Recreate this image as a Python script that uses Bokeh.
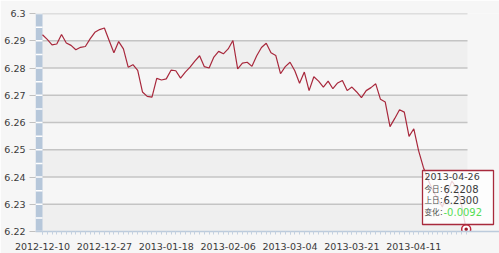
from bokeh.plotting import figure
from bokeh.models import FixedTicker, Range1d, BoxAnnotation, Label
from bokeh.embed import file_html
from bokeh.resources import INLINE

# ---- data ----
rates = [6.2922, 6.2905, 6.2885, 6.2888, 6.2923, 6.2892, 6.2883, 6.2867, 6.2876, 6.2879,
         6.2907, 6.2931, 6.2941, 6.2947, 6.2901, 6.2856, 6.2897, 6.2870, 6.2803, 6.2812,
         6.2791, 6.2712, 6.2696, 6.2693, 6.2762, 6.2756, 6.2760, 6.2792, 6.2790, 6.2763,
         6.2785, 6.2803, 6.2825, 6.2845, 6.2805, 6.2800, 6.2840, 6.2861, 6.2852, 6.2870,
         6.2901, 6.2797, 6.2818, 6.2821, 6.2806, 6.2845, 6.2875, 6.2891, 6.2856, 6.2846,
         6.2779, 6.2805, 6.2821, 6.2790, 6.2744, 6.2785, 6.2717, 6.2768, 6.2752, 6.2730,
         6.2752, 6.2724, 6.2745, 6.2754, 6.2717, 6.2730, 6.2712, 6.2691, 6.2717, 6.2728,
         6.2742, 6.2685, 6.2675, 6.2585, 6.2615, 6.2647, 6.2638, 6.2549, 6.2577, 6.2497,
         6.2436, 6.2390, 6.2350, 6.2320, 6.2290, 6.2340, 6.2385, 6.2360, 6.2300, 6.2208]
day_index = list(range(len(rates)))
x_tick_index = [0, 13, 26, 39, 52, 65, 78]
x_tick_labels = ["2012-12-10", "2012-12-27", "2013-01-18", "2013-02-06",
                 "2013-03-04", "2013-03-21", "2013-04-11"]
y_ticks = [6.22, 6.23, 6.24, 6.25, 6.26, 6.27, 6.28, 6.29, 6.30]
y_tick_labels = ["6.22", "6.23", "6.24", "6.25", "6.26", "6.27", "6.28", "6.29", "6.3"]
last_date = "2013-04-26"
tip_names = ["今日：", "上日：", "变化："]

FONT = "DejaVu Sans, Noto Sans CJK SC"
CJK = "Noto Sans CJK SC"
LINE = "#a8283c"
TXT = "#3a3a3a"

x_start = -1.47
x_end = 96.0
grid_end = day_index[-1] + 0.28

p = figure(width=499, height=253, output_backend="svg", toolbar_location=None,
           x_range=Range1d(x_start, x_end), y_range=Range1d(y_ticks[0], y_ticks[-1]),
           min_border_left=35, min_border_right=0, min_border_top=13, min_border_bottom=22)
p.background_fill_color = "#f6f6f6"
p.border_fill_color = "#f6f6f6"
p.outline_line_color = None
p.xgrid.visible = False
p.ygrid.visible = False

# alternating bands
band_b = [y_ticks[k] for k in range(0, len(y_ticks) - 1, 2)]
band_t = [y_ticks[k + 1] for k in range(0, len(y_ticks) - 1, 2)]
p.quad(left=x_start, right=grid_end, bottom=band_b, top=band_t,
       fill_color="#efefef", line_color=None)
# grid lines
p.segment(x0=x_start, x1=grid_end, y0=y_ticks[1:], y1=y_ticks[1:],
          line_color="#c4c4c4", line_width=1.6)

# left blue bar with white marks
p.quad(left=x_start, right=0, bottom=y_ticks[0], top=y_ticks[-1],
       fill_color="#b6c7da", line_color=None)
marks = y_ticks + [(y_ticks[k] + y_ticks[k + 1]) / 2 for k in range(len(y_ticks) - 1)]
p.segment(x0=x_start, x1=0, y0=marks, y1=marks, line_color="white", line_width=1.5)

# series
p.line(day_index, rates, line_color=LINE, line_width=1.2)
p.scatter([day_index[-1]], [rates[-1]], size=9, fill_color="white",
          line_color="#c0283c", line_width=1.5)
p.scatter([day_index[-1]], [rates[-1]], size=3.5, fill_color="#a01c2c", line_color=None)

# axes
p.yaxis.ticker = FixedTicker(ticks=y_ticks)
p.yaxis.major_label_overrides = {t: l for t, l in zip(y_ticks, y_tick_labels)}
p.yaxis.axis_line_color = None
p.yaxis.major_tick_out = 6
p.yaxis.major_tick_in = 0
p.yaxis.minor_tick_line_color = None
p.yaxis.major_tick_line_color = "#c0c0c0"
p.yaxis.major_label_standoff = 4
p.yaxis.major_label_text_font = FONT
p.yaxis.major_label_text_font_size = "9.5px"
p.yaxis.major_label_text_color = TXT

p.xaxis.ticker = FixedTicker(ticks=x_tick_index, minor_ticks=day_index)
p.xaxis.major_label_overrides = {t: l for t, l in zip(x_tick_index, x_tick_labels)}
p.xaxis.axis_line_color = "#bccbdc"
p.xaxis.axis_line_width = 1.5
p.xaxis.major_tick_out = 3
p.xaxis.major_tick_in = 0
p.xaxis.minor_tick_out = 3
p.xaxis.minor_tick_in = 0
p.xaxis.major_tick_line_color = "#c4d1e0"
p.xaxis.minor_tick_line_color = "#c4d1e0"
p.xaxis.major_label_standoff = 8
p.xaxis.major_label_text_font = FONT
p.xaxis.major_label_text_font_size = "9.5px"
p.xaxis.major_label_text_color = TXT

# tooltip for last point (screen coordinates relative to frame)
today = rates[-1]
prev = rates[-2]
change = today - prev
p.add_layout(BoxAnnotation(left=387, right=458, bottom=7, top=61,
                           left_units="screen", right_units="screen",
                           bottom_units="screen", top_units="screen",
                           fill_color="white", fill_alpha=0.8,
                           line_color="#a82a3c", line_alpha=1.0, line_width=1.3))
p.add_layout(Label(x=389, y=55, x_units="screen", y_units="screen", text=last_date,
                   text_font=FONT, text_font_size="9.5px",
                   text_color=TXT, text_baseline="middle"))
nums = ["%.4f" % today, "%.4f" % prev, "%.4f" % change]
cols = [TXT, TXT, "#55dd55"]
ys = [43, 32, 20]
for name, num, col, yy in zip(tip_names, nums, cols, ys):
    p.add_layout(Label(x=389, y=yy, x_units="screen", y_units="screen", text=name,
                       text_font=CJK, text_font_size="7.5px",
                       text_color="#4a4a4a", text_baseline="middle"))
    p.add_layout(Label(x=408, y=yy, x_units="screen", y_units="screen", text=num,
                       text_font=FONT, text_font_size="10px",
                       text_color=col, text_baseline="middle"))

open("out.html", "w").write(file_html(p, INLINE))
